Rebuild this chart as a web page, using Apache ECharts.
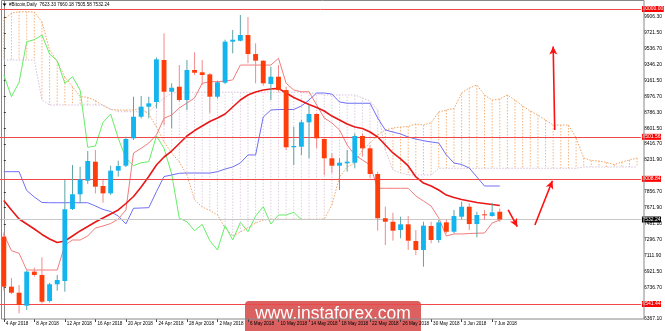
<!DOCTYPE html>
<html><head><meta charset="utf-8">
<script src="https://cdn.jsdelivr.net/npm/echarts@6/dist/echarts.min.js"></script>
<style>html,body{margin:0;padding:0;background:#fff}#c{width:665px;height:331px}</style>
</head><body><div id="c"></div>
<script>
const categories = [
"4 Apr 2018","5 Apr 2018","6 Apr 2018","7 Apr 2018","8 Apr 2018","9 Apr 2018","10 Apr 2018","11 Apr 2018","12 Apr 2018","13 Apr 2018",
"14 Apr 2018","15 Apr 2018","16 Apr 2018","17 Apr 2018","18 Apr 2018","19 Apr 2018","20 Apr 2018","21 Apr 2018","22 Apr 2018","23 Apr 2018",
"24 Apr 2018","25 Apr 2018","26 Apr 2018","27 Apr 2018","28 Apr 2018","29 Apr 2018","30 Apr 2018","1 May 2018","2 May 2018","3 May 2018",
"4 May 2018","5 May 2018","6 May 2018","7 May 2018","8 May 2018","9 May 2018","10 May 2018","11 May 2018","12 May 2018","13 May 2018",
"14 May 2018","15 May 2018","16 May 2018","17 May 2018","18 May 2018","19 May 2018","20 May 2018","21 May 2018","22 May 2018","23 May 2018",
"24 May 2018","25 May 2018","26 May 2018","27 May 2018","28 May 2018","29 May 2018","30 May 2018","31 May 2018","1 Jun 2018","2 Jun 2018",
"3 Jun 2018","4 Jun 2018","5 Jun 2018","6 Jun 2018","7 Jun 2018","8 Jun 2018","9 Jun 2018","10 Jun 2018","11 Jun 2018","12 Jun 2018",
"13 Jun 2018","14 Jun 2018","15 Jun 2018","16 Jun 2018","17 Jun 2018","18 Jun 2018","19 Jun 2018","20 Jun 2018","21 Jun 2018","22 Jun 2018",
"23 Jun 2018","24 Jun 2018","25 Jun 2018","26 Jun 2018"];
const labelDates = ["4 Apr 2018","8 Apr 2018","12 Apr 2018","16 Apr 2018","20 Apr 2018","24 Apr 2018","28 Apr 2018","2 May 2018","6 May 2018","10 May 2018","14 May 2018","18 May 2018","22 May 2018","26 May 2018","30 May 2018","3 Jun 2018","7 Jun 2018"];
const yTicks = [9906.30,9721.50,9536.70,9346.20,9161.50,8976.70,8786.30,8601.50,8416.70,8231.90,7856.70,7671.90,7481.10,7296.70,7111.90,6921.50,6736.70,6367.10];

const opens  = [7331,6745,6674,6522,6921,6882,6577,6773,6811,7655,7828,7987,8210,7925,7839,8105,8163,8484,8737,8855,8910,9402,9030,9089,8933,9285,9258,9234,8972,9136,9617,9628,9695,9472,9394,9121,9206,9050,8379,8386,8672,8769,8476,8250,8163,8191,8198,8511,8367,8066,7547,7506,7409,7476,7280,7175,7456,7292,7499,7389,7565,7682,7479,7593,7573,7623.33];
const closes = [6745,6674,6530,6921,6882,6568,6773,6823,7652,7828,8004,8218,7917,7839,8105,8159,8476,8737,8855,8894,9410,9030,9077,8933,9285,9253,9226,8972,9141,9617,9640,9695,9472,9394,9129,9206,9050,8379,8394,8672,8769,8484,8250,8163,8198,8210,8511,8367,8066,7547,7506,7401,7476,7284,7175,7460,7292,7499,7389,7573,7682,7479,7585,7585,7616,7532.24];
const lows   = [6700,6659,6432,6471,6862,6549,6560,6698,6686,7644,7722,7950,7839,7729,7820,8035,8147,8464,8718,8718,8835,8640,8601,8913,8816,9226,9109,8781,8950,9120,9480,9620,9364,9129,9100,8933,9030,8347,8171,8288,8250,8367,8054,8074,7878,8093,8132,8269,8015,7401,7233,7284,7312,7175,7116,6979,7253,7260,7370,7370,7534,7409,7323,7526,7565,7505.58];
const highs  = [7380,6846,6764,6935,6968,7089,6790,6882,7995,8171,8151,8335,8347,7995,8163,8222,8503,8972,8980,8972,9433,9715,9129,9343,9402,9492,9402,9250,9160,9640,9754,9930,9906,9598,9400,9324,9343,9089,8620,8699,8875,8777,8484,8308,8250,8347,8542,8542,8406,8093,7683,7612,7565,7573,7409,7506,7506,7526,7534,7643,7741,7722,7624,7643,7729,7660.18];

const tenkan = [7360,7167,7136,6940,6940,6940,6940,6940,7233,7292,7292,7339,7433,7456,7485,7538,7644,8312,8367,8429,8523,8719,8757,8840,8898,8957,9129,9148,9148,9156,9168,9343,9343,9343,9343,9343,9422,9129,9050,9030,9030,8875,8722,8664,8582,8406,8288,8230,8171,7898,7898,7898,7898,7898,7808,7749,7690,7550,7339,7363,7363,7368,7371,7374,7491,7526];
const kijun = [8093,8093,8093,7872,7796,7732,7729,7729,7729,7729,7729,7729,7691,7650,7626,7573,7480,7664,7667,7671,7858,8036,8054,8074,8077,8077,8077,8077,8093,8124,8148,8195,8289,8289,8734,8816,8822,8822,8822,8863,8933,9015,9015,9003,8910,8895,8895,8895,8895,8722,8582,8558,8535,8499,8476,8456,8441,8429,8289,8195,8177,8136,8031,7925,7925,7925];
const ma21 = [7755,7644,7538,7480,7421,7357,7304,7263,7280,7339,7398,7450,7503,7550,7597,7644,7720,7802,7914,8036,8171,8265,8335,8423,8511,8575,8628,8681,8722,8769,8851,8933,8992,9027,9050,9062,9070,9015,8962,8921,8880,8845,8804,8745,8699,8652,8617,8599,8558,8499,8406,8312,8242,8160,8031,7960,7925,7878,7819,7790,7767,7749,7732,7720,7708,7697];
const chikou = [9226,8972,9141,9617,9640,9695,9472,9394,9129,9206,9050,8379,8394,8672,8769,8484,8250,8163,8198,8210,8511,8367,8066,7547,7506,7401,7476,7284,7175,7460,7292,7499,7389,7573,7682,7479,7585,7585,7616,7532];
const spanA = [9871,9953,9968,9968,9965,9848,9519,9385,9203,9089,8974,8963,8927,8869,8822,8816,8816,8816,8836,8769,8617,8441,8312,8206,8054,7761,7679,7638,7585,7433,7339,7386,7433,7491,7526,7535,7535,7535,7535,7535,7535,7535,7538,7702,8031,8148,8195,8347,8429,8523,8582,8605,8617,8623,8652,8640,8667,8793,8816,8834,9015,9074,9109,8992,8933,8945,8992,8933,8863,8804,8757,8699,8640,8640,8640,8488,8253,8224,8218,8201,8177,8206,8230,8253];
const spanB = [9402,9402,9402,9402,9402,8933,8875,8875,8875,8875,8875,8875,8875,8875,8828,8796,8796,8796,8796,8796,8875,8957,9015,9024,9024,9024,9024,9024,9024,9024,9024,9024,9024,9024,9024,9024,9024,9024,9024,9024,9015,9009,8992,8992,8992,8992,8992,8957,8921,8816,8347,8113,8078,8054,8054,8054,8054,8133,8133,8133,8133,8133,8133,8133,8133,8133,8133,8133,8133,8133,8133,8133,8133,8133,8133,8133,8148,8148,8148,8148,8148,8148,8148,8148];

const levelValues = [10000.00, 8501.56, 8008.84, 6541.44];
const lastPrice = 7532.24;
const titleText = "#Bitcoin,Daily  7623.33 7660.18 7505.58 7532.24";
// annotation arrows in data space: [startIndex, startPrice, endIndex, endPrice]
const arrows = [[66.1,7644,67.3,7448],[69.6,7468,71.9,7987],[72.2,8582,72.0,9560]];

const FONT = 'Liberation Sans';
const chart = echarts.init(document.getElementById('c'));
const N = categories.length;
const candleData = opens.map((o,i)=>[i,o,closes[i],lows[i],highs[i]]);
const cloudData = spanA.map((a,i)=>[i,a,spanB[i]]);
const isLabel = (i)=> labelDates.indexOf(categories[i]) >= 0;

const option = {
  animation:false,
  backgroundColor:'#fff',
  grid:{left:-2.85, right:21.05, top:1, bottom:12, show:false},
  xAxis:[{
    type:'category', data:categories, boundaryGap:true,
    axisLine:{show:false},
    axisTick:{show:true, alignWithLabel:true, interval:(i)=>isLabel(i), length:3, lineStyle:{color:'#444'}},
    axisLabel:{interval:(i)=>isLabel(i), fontSize:4.6, color:'#000', align:'left', margin:2, fontFamily:FONT, padding:[0,0,0,2]},
    splitLine:{show:false}
  },{
    type:'value', min:-0.5, max:N-0.5, show:false
  }],
  yAxis:{
    type:'value', position:'right', min:6365.8, max:10093.9,
    axisLine:{show:true, lineStyle:{color:'#888'}},
    axisTick:{show:true, customValues:yTicks, length:2, lineStyle:{color:'#333'}},
    axisLabel:{customValues:yTicks, formatter:(v)=>v.toFixed(2), fontSize:5, color:'#000', margin:3, fontFamily:FONT},
    splitLine:{show:false}
  },
  series:[
    {type:'custom', name:'cloud', data:cloudData, clip:true, z:1, encode:{x:0,y:[1,2]},
     renderItem:(params, api)=>{
       const i=api.value(0), a=api.value(1), b=api.value(2);
       const p1=api.coord([i,a]), p2=api.coord([i,b]);
       return {type:'line', shape:{x1:p1[0],y1:p1[1],x2:p2[0],y2:p2[1]},
         style:{stroke: a>=b?'#f4a460':'#d8bfd8', lineWidth:1, lineDash:[1.5,1.5], opacity:0.8}};
     },
     markLine:{silent:true, symbol:'none', animation:false,
       lineStyle:{color:'#c8c8c8', width:1, type:'solid'},
       label:{show:true, position:'end', distance:1, formatter:lastPrice.toFixed(2), backgroundColor:'#000', color:'#fff', fontSize:5, fontFamily:FONT, padding:[0.5,0.5]},
       data:[{yAxis:lastPrice}]}
    },
    {type:'line', name:'spanA', data:spanA, symbol:'none', z:2, lineStyle:{color:'#f4a460', width:1, type:[1.5,1.5]}},
    {type:'line', name:'spanB', data:spanB, symbol:'none', z:2, lineStyle:{color:'#d8bfd8', width:1, type:[1.5,1.5]}},
    {type:'line', name:'chikou', data:chikou, symbol:'none', z:3, lineStyle:{color:'#66ee66', width:1}},
    {type:'line', name:'kijun', data:kijun, symbol:'none', z:3, lineStyle:{color:'#7070f5', width:1}},
    {type:'line', name:'tenkan', data:tenkan, symbol:'none', z:3, lineStyle:{color:'#f27c7c', width:1}},
    {type:'line', name:'ma', data:ma21, symbol:'none', z:4, lineStyle:{color:'#e81818', width:1.6},
     markLine:{silent:true, symbol:'none', animation:false,
       lineStyle:{color:'#f04848', width:1, type:'solid'},
       label:{show:true, position:'end', distance:1, formatter:(p)=>p.value.toFixed(2), backgroundColor:'#ff0000', color:'#fff', fontSize:5, fontFamily:FONT, padding:[0.5,0.5]},
       data:levelValues.map(v=>({yAxis:v}))}
    },
    {type:'custom', name:'candles', data:candleData, clip:true, z:5, encode:{x:0,y:[1,2,3,4]},
     renderItem:(params, api)=>{
       const i=api.value(0), o=api.value(1), c=api.value(2), l=api.value(3), h=api.value(4);
       const pO=api.coord([i,o]), pC=api.coord([i,c]), pL=api.coord([i,l]), pH=api.coord([i,h]);
       const w=api.size([1,0])[0]*0.64;
       const bull=c>o;
       const top=Math.min(pO[1],pC[1]), bot=Math.max(pO[1],pC[1]);
       const x=pO[0];
       return {type:'group', children:[
         {type:'line', shape:{x1:x,y1:pH[1],x2:x,y2:pL[1]}, style:{stroke: bull?'#5fa3a6':'#f08a8a', lineWidth:1}},
         {type:'rect', shape:{x:x-w/2, y:top, width:w, height:Math.max(bot-top,1)}, style:{fill: bull?'#14b4ee':'#ff3d0a'}}
       ]};
     }
    },
    {type:'line', name:'arrows', xAxisIndex:1, data:[], z:6,
     markLine:{silent:true, animation:false, symbol:['none','arrow'], symbolSize:[6,8],
       lineStyle:{color:'#ff1010', width:1.6, type:'solid'}, label:{show:false},
       data:arrows.map(a=>[{coord:[a[0],a[1]]},{coord:[a[2],a[3]]}])}
    }
  ],
  graphic:[
    {type:'rect', shape:{x:1.5,y:0.5,width:642.5,height:318.5}, style:{fill:null, stroke:'#888', lineWidth:1}, z:50, silent:true},
    {type:'polygon', shape:{points:[[2.5,3.5],[6.5,3.5],[4.5,6]]}, style:{fill:'#000'}, z:51},
    {type:'text', x:9, y:2.2, style:{text:titleText, fontSize:4.6, fill:'#000', fontFamily:FONT}, z:51},
    {type:'group', z:100, children:[
      {type:'rect', shape:{x:245, y:301, width:176, height:36, r:4}, style:{fill:'rgba(205,35,35,0.72)'}},
      {type:'text', x:333, y:314, style:{text:'www.instaforex.com', fontSize:17.5, fill:'#fff', fontFamily:FONT, align:'center', verticalAlign:'middle'}}
    ]}
  ]
};
chart.setOption(option);
</script></body></html>
